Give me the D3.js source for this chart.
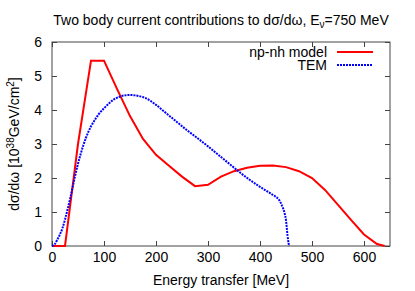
<!DOCTYPE html>
<html>
<head>
<meta charset="utf-8">
<script src="https://cdn.jsdelivr.net/npm/d3@7"></script>
<style>
  body { margin: 0; background: #fff; }
  text { font-family: "Liberation Sans", Arial, sans-serif; fill: #000; }
</style>
</head>
<body>
<div id="chart"></div>
<script>
/* Two body current contributions - line chart */

const height = 291,
    width = 415,
    margin = ({ top: 42, right: 25, bottom: 45, left: 52 });

// np-nh model (red)
const npnhX = [0, 25, 50, 75, 100, 125, 150, 175, 200, 225, 250, 275, 300, 325, 350, 375, 400, 425, 450, 475, 500, 525, 550, 575, 600, 625, 640];
const npnhY = [0, 0, 3.0, 5.45, 5.45, 4.62, 3.82, 3.15, 2.68, 2.36, 2.04, 1.76, 1.8, 2.04, 2.2, 2.3, 2.36, 2.37, 2.32, 2.2, 2.0, 1.65, 1.21, 0.77, 0.34, 0.06, 0];

// TEM (blue)
const temX = [0, 5, 10, 15, 20, 25, 30, 35, 40, 45, 50, 55, 60, 65, 70, 75, 80, 85, 90, 100, 110, 120, 130, 140, 150, 160, 170, 180, 200, 220, 240, 260, 280, 300, 320, 340, 360, 380, 400, 420, 430, 437, 443, 447, 450, 453, 455, 456];
const temY = [0, 0.05, 0.18, 0.33, 0.52, 0.78, 1.08, 1.4, 1.75, 2.1, 2.42, 2.7, 2.95, 3.17, 3.36, 3.52, 3.65, 3.77, 3.88, 4.05, 4.2, 4.32, 4.39, 4.43, 4.44, 4.43, 4.4, 4.35, 4.15, 3.9, 3.65, 3.4, 3.17, 2.93, 2.68, 2.43, 2.18, 1.95, 1.74, 1.55, 1.45, 1.35, 1.16, 0.98, 0.76, 0.3, 0.08, 0];

const xTicks = [0, 100, 200, 300, 400, 500, 600];
const yTicks = [0, 1, 2, 3, 4, 5, 6];

const svg = d3.select("#chart")
    .append("svg")
    .attr("width", width)
    .attr("height", height);

let x = d3.scaleLinear()
    .domain([0, 650])
    .range([margin.left, width - margin.right]);

let y = d3.scaleLinear()
    .domain([0, 6])
    .range([height - margin.bottom, margin.top]);

/* Axes, ticks mirrored on all sides, pointing inward */
const tk = 5;
svg.append("g")
    .attr("transform", `translate(0,${height - margin.bottom})`)
    .call(d3.axisBottom(x).tickValues(xTicks).tickSizeInner(-tk).tickSizeOuter(0).tickPadding(6).tickFormat(d3.format("d")));
svg.append("g")
    .attr("class", "mirror")
    .attr("transform", `translate(0,${margin.top})`)
    .call(d3.axisTop(x).tickValues(xTicks).tickSizeInner(-tk).tickSizeOuter(0));
svg.append("g")
    .attr("transform", `translate(${margin.left},0)`)
    .call(d3.axisLeft(y).tickValues(yTicks).tickSizeInner(-tk).tickSizeOuter(0).tickPadding(10).tickFormat(d3.format("d")));
svg.append("g")
    .attr("class", "mirror")
    .attr("transform", `translate(${width - margin.right},0)`)
    .call(d3.axisRight(y).tickValues(yTicks).tickSizeInner(-tk).tickSizeOuter(0));

svg.selectAll(".mirror .tick text").remove();
svg.selectAll(".domain").remove();
svg.selectAll(".tick line").attr("stroke", "#444");
svg.selectAll(".tick text").style("font-size", "14px").attr("fill", "#000");

svg.append("rect")
    .attr("x", margin.left)
    .attr("y", margin.top)
    .attr("width", width - margin.left - margin.right)
    .attr("height", height - margin.top - margin.bottom)
    .attr("fill", "none")
    .attr("stroke", "#444");

/* Lines */
let line = d3.line()
    .x(d => x(d[0]))
    .y(d => y(d[1]));

svg.append("path")
    .datum(npnhX.map((v, i) => [v, npnhY[i]]))
    .attr("d", line)
    .attr("fill", "none")
    .attr("stroke", "#ff0000")
    .attr("stroke-width", 2);

svg.append("path")
    .datum(temX.map((v, i) => [v, temY[i]]))
    .attr("d", line.curve(d3.curveMonotoneX))
    .attr("fill", "none")
    .attr("stroke", "#0000ff")
    .attr("stroke-width", 2)
    .attr("stroke-dasharray", "2,1");

/* Legend */
const legend = [
    { name: "np-nh model", color: "#ff0000", dash: null, y: 57 },
    { name: "TEM", color: "#0000ff", dash: "2,1", y: 70 }
];
legend.forEach(l => {
    svg.append("text")
      .attr("x", 327)
      .attr("y", l.y)
      .attr("text-anchor", "end")
      .style("font-size", "14px")
      .text(l.name);
    svg.append("line")
      .attr("x1", 337).attr("x2", 373)
      .attr("y1", l.y - 5).attr("y2", l.y - 5)
      .attr("stroke", l.color)
      .attr("stroke-width", 2)
      .attr("stroke-dasharray", l.dash);
});

/* Title and labels */
const title = svg.append("text")
    .attr("x", 221)
    .attr("y", 25)
    .attr("text-anchor", "middle")
    .style("font-size", "14px");
title.append("tspan").text("Two body current contributions to dσ/dω, E");
title.append("tspan").attr("dy", 3).style("font-size", "10px").text("ν");
title.append("tspan").attr("dy", -3).text("=750 MeV");

svg.append("text")
    .attr("x", 221)
    .attr("y", 285)
    .attr("text-anchor", "middle")
    .style("font-size", "14px")
    .text("Energy transfer [MeV]");

const yl = svg.append("text")
    .attr("transform", `translate(19,144) rotate(-90)`)
    .attr("text-anchor", "middle")
    .style("font-size", "14px");
yl.append("tspan").text("dσ/dω [10");
yl.append("tspan").attr("dy", -5).style("font-size", "10px").text("38");
yl.append("tspan").attr("dy", 5).text("GeV/cm");
yl.append("tspan").attr("dy", -5).style("font-size", "10px").text("2");
yl.append("tspan").attr("dy", 5).text("]");
</script>
</body>
</html>
